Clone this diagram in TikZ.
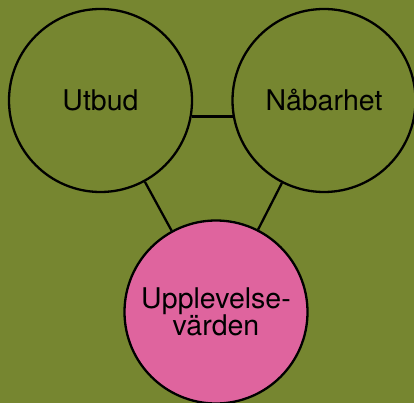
\documentclass[tikz,border=0pt]{standalone}
\usepackage{fontspec}
\setmainfont{TeX Gyre Heros}
\definecolor{olive}{RGB}{118,134,48}
\definecolor{pinkc}{RGB}{223,100,158}
\begin{document}
\begin{tikzpicture}[x=1pt,y=-1pt,
  blob/.style={circle,draw=black,line width=2.3pt,minimum size=183pt,inner sep=0pt,
    font=\fontsize{28.5}{24}\selectfont,align=center},
  link/.style={draw=black,line width=2.3pt}]
\fill[olive] (0,0) rectangle (414,403);
\useasboundingbox (0,0) rectangle (414,403);
\node[blob] (u) at (100.5,100.5) {Utbud};
\node[blob] (n) at (324,100.5) {Nåbarhet};
\node[blob,fill=pinkc] (v) at (216,312) {Upplevelse-\\[-1pt]värden};
\draw[link] (u.-10) -- (n.190);
\draw[link] (u) -- (v);
\draw[link] (n) -- (v);
\end{tikzpicture}
\end{document}
